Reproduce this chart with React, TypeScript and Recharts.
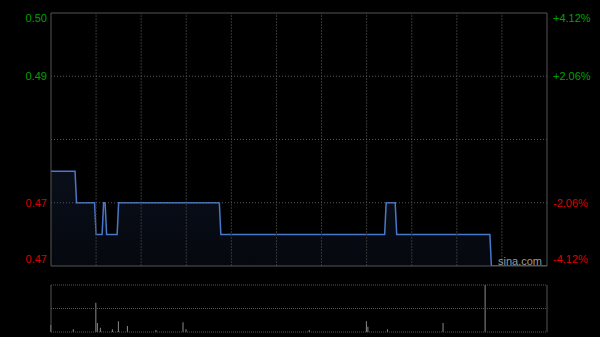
import { ComposedChart, Area, Bar, XAxis, YAxis, ReferenceLine } from 'recharts';

// price line: minute index (0 = 9:30) and price at that minute
const priceMinutes = [0, 16, 17, 29, 30, 34, 35, 36, 37, 44, 45, 112, 113, 222, 223, 229, 230, 292, 293, 330];
const prices = [0.48, 0.48, 0.475, 0.475, 0.47, 0.47, 0.475, 0.475, 0.47, 0.47, 0.475, 0.475, 0.47, 0.47, 0.475, 0.475, 0.47, 0.47, 0.465, 0.465];

// volume bars (relative to the biggest one)
const volMinutes = [0, 15, 30, 31, 33, 41, 45, 51, 70, 88, 90, 172, 210, 211, 224, 261, 289];
const volumes = [15, 6, 62, 19, 9, 6, 23, 13, 4, 21, 6, 4, 23, 11, 6, 19, 100];

const priceTicks = [0.505, 0.495, 0.475, 0.465];
const priceLabels = ['0.50', '0.49', '0.47', '0.47'];
const pctTicks = [4.12, 2.06, -2.06, -4.12];
const pctLabels = ['+4.12%', '+2.06%', '-2.06%', '-4.12%'];
const gridMinutes = [30, 60, 90, 120, 150, 180, 210, 240, 270, 300];

const priceData = priceMinutes.map((m, i) => ({ m, price: prices[i] }));
const volData = volMinutes.map((m, i) => ({ m, vol: volumes[i] }));

const GREEN = '#00a000';
const RED = '#dd0000';
const FONT = '"Liberation Sans", Arial, sans-serif';

// top and bottom labels sit just inside the frame
const nudge = (idx: number) => (idx === 0 ? 5 : idx === 3 ? -2 : 0);

const PriceTick = (props: any) => {
    const { x, y, payload, index } = props;
    const i = priceTicks.indexOf(payload.value);
    return (
        <text x={x} y={y + nudge(i)} dy={4} textAnchor="end" fontSize={11} fontFamily={FONT} fill={i < 2 ? GREEN : RED}>
            {priceLabels[i >= 0 ? i : index]}
        </text>
    );
};

const PctTick = (props: any) => {
    const { x, y, payload, index } = props;
    const i = pctTicks.indexOf(payload.value);
    return (
        <text x={x} y={y + nudge(i)} dy={4} textAnchor="start" fontSize={11} fontFamily={FONT} fill={i < 2 ? GREEN : RED}>
            {pctLabels[i >= 0 ? i : index]}
        </text>
    );
};

export default function App() {
    return (
        <div style={{ position: 'absolute', left: 0, top: 0, width: 600, height: 337, background: '#000', overflow: 'hidden' }}>
            <ComposedChart width={600} height={270} data={priceData} margin={{ top: 13, right: 0, left: 0, bottom: 4 }}>
                <defs>
                    <linearGradient id="fillPrice" x1="0" y1="0" x2="0" y2="1">
                        <stop offset="0%" stopColor="#1c2c50" stopOpacity={0.55} />
                        <stop offset="100%" stopColor="#1c2c50" stopOpacity={0.3} />
                    </linearGradient>
                </defs>
                <XAxis dataKey="m" type="number" domain={[0, 330]} hide />
                <YAxis
                    yAxisId="p"
                    domain={[0.465, 0.505]}
                    ticks={priceTicks}
                    width={51}
                    tickSize={0}
                    tickMargin={4}
                    tickLine={false}
                    axisLine={{ stroke: '#555' }}
                    tick={<PriceTick />}
                    allowDataOverflow
                />
                <YAxis
                    yAxisId="pct"
                    orientation="right"
                    domain={[-4.12, 4.12]}
                    ticks={pctTicks}
                    width={53}
                    tickSize={0}
                    tickMargin={6}
                    tickLine={false}
                    axisLine={{ stroke: '#555' }}
                    tick={<PctTick />}
                    allowDataOverflow
                />
                {gridMinutes.map((g) => (
                    <ReferenceLine key={g} yAxisId="p" x={g} stroke="#353535" strokeDasharray="2 1" />
                ))}
                <ReferenceLine yAxisId="p" y={0.495} stroke="#555" strokeDasharray="1 2" />
                <ReferenceLine yAxisId="p" y={0.485} stroke="#555" strokeDasharray="1 2" />
                <ReferenceLine yAxisId="p" y={0.475} stroke="#555" strokeDasharray="1 2" />
                <ReferenceLine yAxisId="p" y={0.505} stroke="#555" />
                <ReferenceLine yAxisId="p" y={0.465} stroke="#555" />
                <Area
                    yAxisId="p"
                    type="linear"
                    dataKey="price"
                    stroke="#4a78c8"
                    strokeWidth={1.5}
                    fill="url(#fillPrice)"
                    isAnimationActive={false}
                    dot={false}
                    activeDot={false}
                />
            </ComposedChart>
            <div style={{ position: 'absolute', left: 498, top: 255, fontSize: 11, fontFamily: FONT, color: '#9a9a9a' }}>sina.com</div>
            <div style={{ position: 'absolute', left: 0, top: 280 }}>
                <ComposedChart width={600} height={57} data={volData} margin={{ top: 5, right: 0, left: 0, bottom: 5 }}>
                    <XAxis dataKey="m" type="number" domain={[0, 330]} hide />
                    <YAxis yAxisId="v" domain={[0, 100]} width={51} tick={false} tickLine={false} axisLine={{ stroke: '#555' }} allowDataOverflow />
                    <YAxis yAxisId="r" orientation="right" width={53} tick={false} tickLine={false} axisLine={{ stroke: '#555' }} />
                    <ReferenceLine yAxisId="v" y={100} stroke="#555" strokeDasharray="1 1" />
                    <ReferenceLine yAxisId="v" y={50} stroke="#555" strokeDasharray="1 1" />
                    <ReferenceLine yAxisId="v" y={0} stroke="#555" strokeDasharray="1 1" />
                    <Bar yAxisId="v" dataKey="vol" fill="#8a8a8a" barSize={1} isAnimationActive={false} />
                </ComposedChart>
            </div>
        </div>
    );
}
